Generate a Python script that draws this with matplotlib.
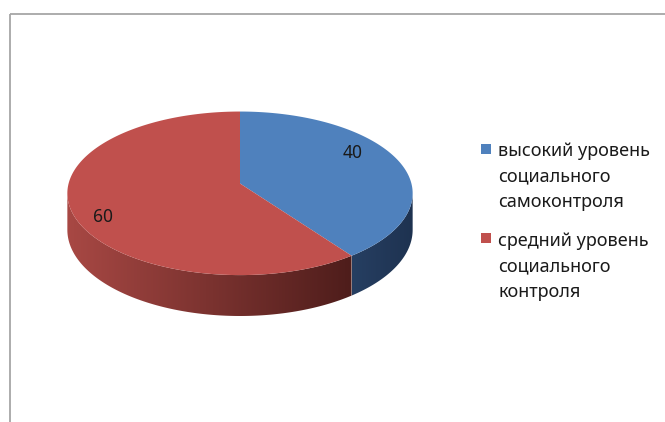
#!/usr/bin/env python3

import matplotlib
matplotlib.use('Agg')
import matplotlib.pyplot as plt
from matplotlib.patches import Polygon, Rectangle
import numpy as np

plt.rcParams['font.family'] = ['Noto Sans', 'DejaVu Sans']

# Data
labels = ['высокий уровень\nсоциального\nсамоконтроля',
          'средний уровень\nсоциального\nконтроля']
values = [40, 60]
top_colors = ['#4F81BD', '#C0504D']
# side shading, left -> right
side_colors = [('#263F62', '#1E3250'), ('#A84844', '#4E1D1B')]

# Pie geometry (pixels), simple perspective like an Excel 3D pie
cx, cy = 240, 183.5
rx, ry = 171.4, 80.6
depth = 36
persp = 0.12
start_angle = 90

fig = plt.figure(figsize=(6.65, 4.22), dpi=100)
ax = fig.add_axes([0, 0, 1, 1])
ax.set_xlim(0, 665)
ax.set_ylim(422, 0)
ax.axis('off')


def ellipse_pts(t1, t2, bottom=False, n=240):
    t = np.radians(np.linspace(t1, t2, n))
    X, Z = np.cos(t), np.sin(t)
    w = 1 + persp * Z
    x = cx + rx * X / w
    y = cy - ry * Z / w + (depth / w if bottom else 0)
    return np.column_stack([x, y])


def hex_rgb(h):
    return np.array(matplotlib.colors.to_rgb(h))


# wedge angles (clockwise from top)
fracs = np.array(values) / sum(values)
bounds = start_angle - 360 * np.concatenate([[0], np.cumsum(fracs)])

# visible side range (silhouette where the outline is widest)
edge = np.degrees(np.arcsin(persp))
front_lo, front_hi = -180 + edge, -edge

# sides first
for i in range(len(values)):
    hi, lo = bounds[i], bounds[i + 1]
    a1 = max(lo, front_lo)
    a2 = min(hi, front_hi)
    if a1 >= a2:
        continue
    top = ellipse_pts(a2, a1)
    bot = ellipse_pts(a1, a2, bottom=True)
    poly = Polygon(np.vstack([top, bot]), closed=True, fc='none', ec='none')
    ax.add_patch(poly)
    c_left, c_right = hex_rgb(side_colors[i][0]), hex_rgb(side_colors[i][1])
    xs = np.linspace(0, 1, 256)
    grad = (c_left[None, :] * (1 - xs[:, None]) + c_right[None, :] * xs[:, None])[None, :, :]
    x_left = min(top[:, 0].min(), bot[:, 0].min())
    x_right = max(top[:, 0].max(), bot[:, 0].max())
    im = ax.imshow(grad, extent=(x_left, x_right, 360, 150),
                   aspect='auto', interpolation='bilinear', zorder=1)
    im.set_clip_path(poly)
ax.set_xlim(0, 665)
ax.set_ylim(422, 0)

# top faces
for i in range(len(values)):
    hi, lo = bounds[i], bounds[i + 1]
    pts = np.vstack([[cx, cy], ellipse_pts(hi, lo)])
    ax.add_patch(Polygon(pts, closed=True, fc=top_colors[i], ec='none', zorder=2))

# data labels
label_pos = [(352.5, 153), (103, 217.5)]
for v, (lx, ly) in zip(values, label_pos):
    ax.text(lx, ly, str(v), ha='center', va='center', fontsize=12.5,
            color='#1A1A1A', zorder=3)

# legend: square aligned with the first line of each entry
leg_y = [148.5, 238]
line_step = 25.3
for lab, col, y in zip(labels, top_colors, leg_y):
    ax.add_patch(Rectangle((481, y - 5), 10, 10, fc=col, ec='none'))
    for j, line in enumerate(lab.split('\n')):
        ax.text(498, y + 8 + j * line_step, line, ha='left', va='baseline',
                fontsize=13, color='#1A1A1A')

# chart frame
ax.add_patch(Rectangle((9.5, 13.5), 800, 600, fill=False, ec='#A6A6A6',
                       lw=1.3, clip_on=False))

fig.savefig('out.png', dpi=100)
